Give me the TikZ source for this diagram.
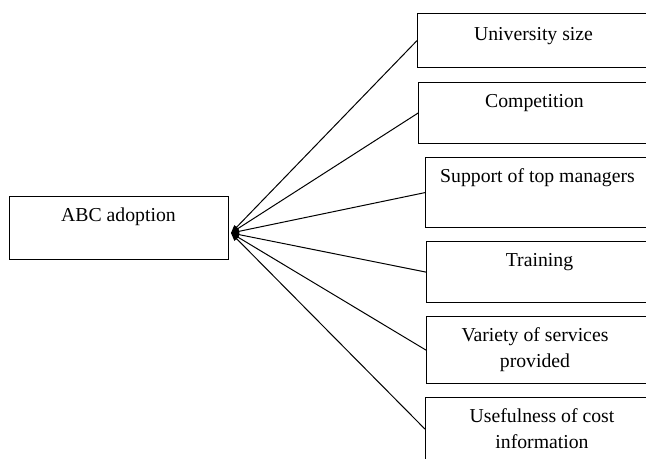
\documentclass[tikz,border=0pt]{standalone}
\usepackage{fontspec}
\setmainfont{Liberation Serif}
\usetikzlibrary{arrows.meta}
\begin{document}
\begin{tikzpicture}[x=0.75pt,y=-0.75pt,
  boxshape/.style={draw=black, line width=0.9pt, rectangle, inner sep=0pt, anchor=north west},
  lbl/.style={font=\fontsize{14.8}{19.5}\selectfont, inner sep=0pt, anchor=base, align=center},
  link/.style={line width=0.75pt, -{Triangle[length=6pt,width=4.5pt]}}]
\clip (0,0) rectangle (646,458);
% left box
\node[boxshape, minimum width=219*0.75pt, minimum height=63*0.75pt] (abc) at (9,196) {};
\node[lbl] (abct) at (118.5,221) {ABC adoption};
\coordinate (tip) at (231,233);
% right boxes
\node[boxshape, minimum width=233*0.75pt, minimum height=54*0.75pt] (b1) at (417,13) {};
\node[boxshape, minimum width=232*0.75pt, minimum height=61*0.75pt] (b2) at (418,82) {};
\node[boxshape, minimum width=225*0.75pt, minimum height=70*0.75pt] (b3) at (425,157) {};
\node[boxshape, minimum width=224*0.75pt, minimum height=61*0.75pt] (b4) at (426,241) {};
\node[boxshape, minimum width=224*0.75pt, minimum height=67*0.75pt] (b5) at (426,316) {};
\node[boxshape, minimum width=225*0.75pt, minimum height=63*0.75pt] (b6) at (425,397) {};
% labels
\node[lbl] (t1) at (533.5,40) {University size};
\node[lbl] (t2) at (534.5,107) {Competition};
\node[lbl] (t3) at (537.5,182) {Support of top managers};
\node[lbl] (t4) at (539.5,266) {Training};
\node[lbl] (t5) at (535,367) {Variety of services\\provided};
\node[lbl] (t6) at (542,448) {Usefulness of cost\\information};
% connectors
\foreach \b in {b1,b2,b3,b4,b5,b6}
  \draw[link] (\b.west) -- (tip);
\end{tikzpicture}
\end{document}
